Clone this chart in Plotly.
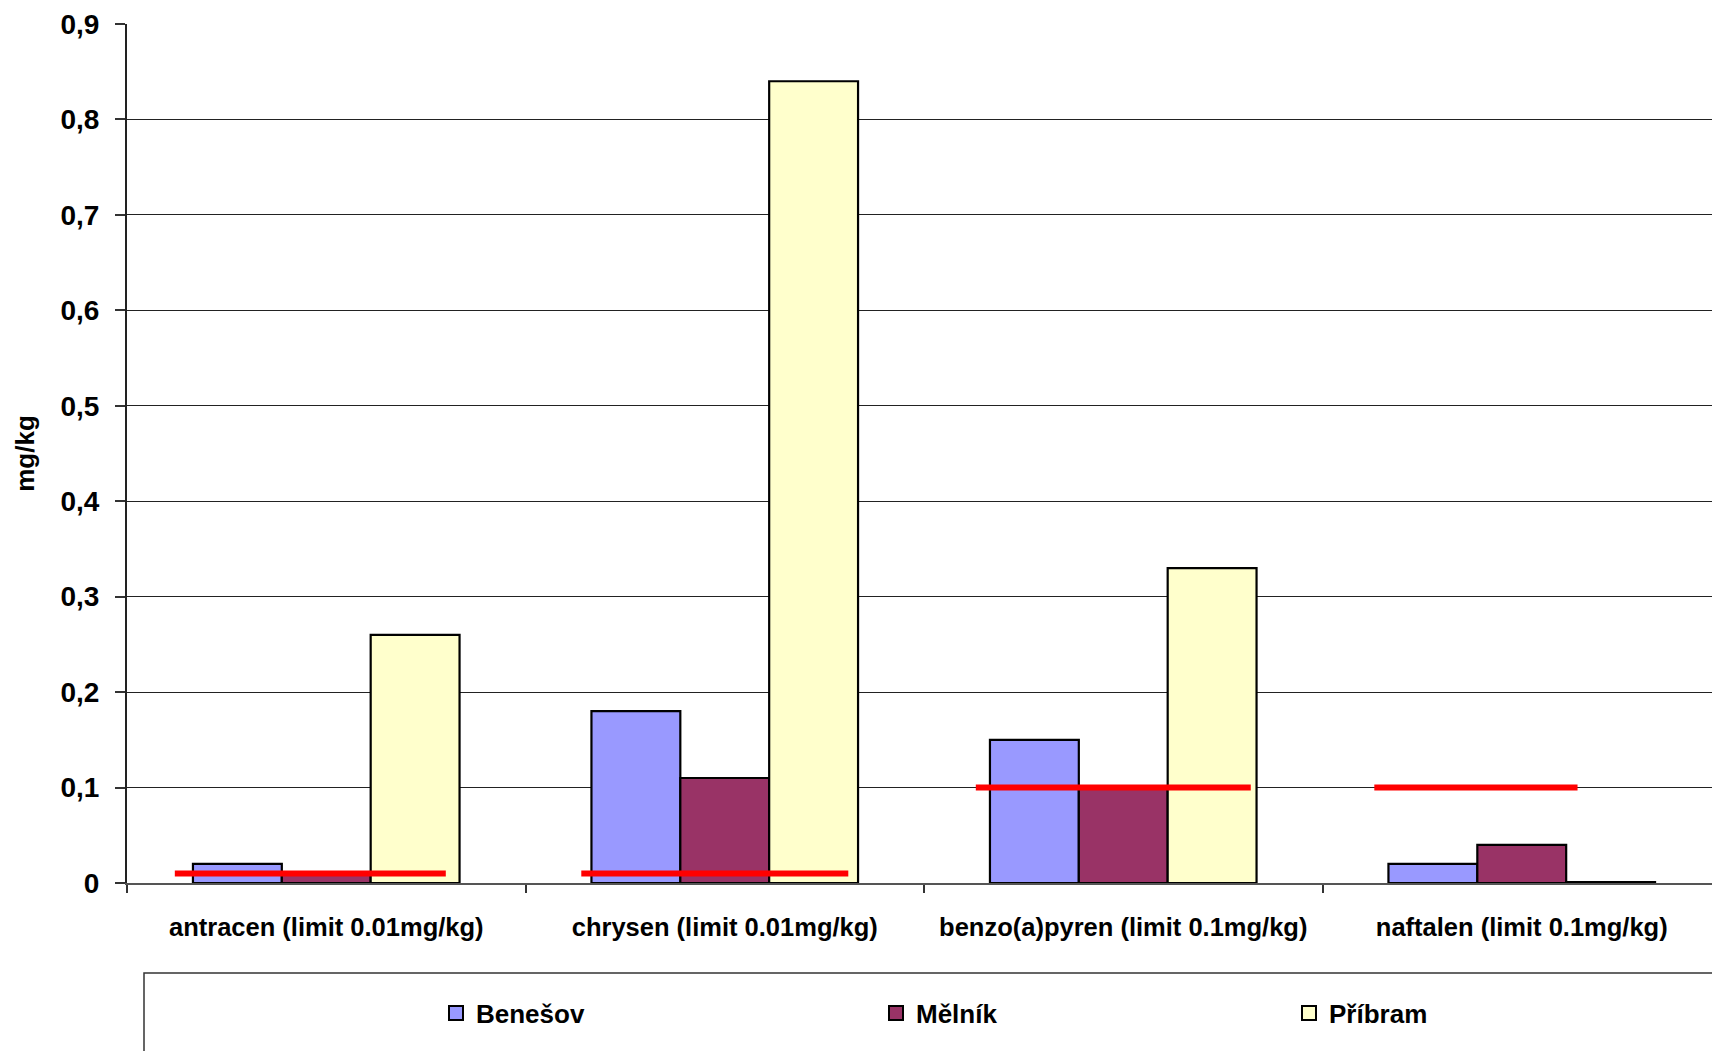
import plotly.graph_objects as go

# ---- data ----
categories = [
    "antracen (limit 0.01mg/kg)",
    "chrysen (limit 0.01mg/kg)",
    "benzo(a)pyren (limit 0.1mg/kg)",
    "naftalen (limit 0.1mg/kg)",
]
benesov = [0.02, 0.18, 0.15, 0.02]
melnik = [0.01, 0.11, 0.10, 0.04]
pribram = [0.26, 0.84, 0.33, 0.001]
limits = [0.01, 0.01, 0.1, 0.1]
series_names = ["Benešov", "Mělník", "Příbram"]
y_ticks = [0, 0.1, 0.2, 0.3, 0.4, 0.5, 0.6, 0.7, 0.8, 0.9]

# ---- style ----
W, H = 1712, 1051
ML, MR, MT, MB = 127, 0, 24, 168
PW, PH = W - ML - MR, H - MT - MB
FONT = "Liberation Sans, Arial, sans-serif"
colors = ["#9999FF", "#993366", "#FFFFCC"]
# extent of each red limit line relative to its category centre (category units)
limit_spans = [(-0.38, 0.30), (-0.36, 0.31), (-0.37, 0.32), (-0.37, 0.14)]
x_range = [-0.5, -0.5 + PW / 398.5]

fig = go.Figure()
legend_ids = ["legend", "legend2", "legend3"]
for name, vals, col, lg in zip(series_names, [benesov, melnik, pribram], colors, legend_ids):
    fig.add_trace(go.Bar(
        x=categories, y=vals, name=name, legendgroup=name, showlegend=False,
        marker=dict(color=col, line=dict(color="black", width=2.2)),
    ))
    # legend entry (square key with black outline, as in the original)
    fig.add_trace(go.Scatter(
        x=[None], y=[None], mode="markers", name=name, legendgroup=name, legend=lg,
        marker=dict(symbol="square", size=14, color=col, line=dict(color="black", width=2)),
        showlegend=True, hoverinfo="skip",
    ))

lx, ly = [], []
for i, (lim, (a, b)) in enumerate(zip(limits, limit_spans)):
    lx += [i + a, i + b, None]
    ly += [lim, lim, None]
fig.add_trace(go.Scatter(
    x=lx, y=ly, mode="lines", xaxis="x2", yaxis="y",
    line=dict(color="#FF0000", width=6), showlegend=False, hoverinfo="skip",
))


def px_to_paper_x(px):
    return (px - ML) / PW


def px_to_paper_y(py):
    return (H - MB - py) / PH


legend_common = dict(
    orientation="h", yanchor="middle", xanchor="left",
    font=dict(family=FONT, size=26, color="black", weight="bold"),
    bgcolor="rgba(0,0,0,0)", borderwidth=0,
)
legend_left = [436, 876, 1289]

fig.update_layout(
    width=W, height=H,
    margin=dict(l=ML, r=MR, t=MT, b=MB, autoexpand=False),
    paper_bgcolor="white", plot_bgcolor="white",
    separators=",.",
    barmode="group", bargap=0.331, bargroupgap=0,
    font=dict(family=FONT, color="black"),
    xaxis=dict(
        type="category", range=x_range, tickson="boundaries",
        ticks="outside", ticklen=8, tickwidth=1.5, tickcolor="#333",
        showline=True, linecolor="#555", linewidth=1.5,
        showgrid=False, zeroline=False,
        tickfont=dict(family=FONT, size=25.5, color="black", weight="bold"),
        ticklabelstandoff=21,
    ),
    xaxis2=dict(
        overlaying="x", range=x_range, visible=False, showgrid=False, zeroline=False,
    ),
    yaxis=dict(
        range=[0, 0.9], tickvals=y_ticks,
        ticks="outside", ticklen=10, tickwidth=1.5, tickcolor="#333",
        showline=True, linecolor="#222", linewidth=2,
        showgrid=True, gridcolor="#222", gridwidth=1.4,
        zeroline=False,
        tickfont=dict(family=FONT, size=28, color="black", weight="bold"),
        ticklabelstandoff=10,
        title=dict(text="mg/kg", font=dict(family=FONT, size=26, color="black", weight="bold"),
                   standoff=18),
    ),
    legend=dict(x=px_to_paper_x(legend_left[0]), y=px_to_paper_y(1013), **legend_common),
    legend2=dict(x=px_to_paper_x(legend_left[1]), y=px_to_paper_y(1013), **legend_common),
    legend3=dict(x=px_to_paper_x(legend_left[2]), y=px_to_paper_y(1013), **legend_common),
    shapes=[dict(
        type="rect", xref="paper", yref="paper",
        x0=px_to_paper_x(144), x1=px_to_paper_x(W + 20),
        y0=px_to_paper_y(H + 20), y1=px_to_paper_y(973),
        line=dict(color="#333", width=1.5), fillcolor="rgba(0,0,0,0)", layer="below",
    )],
    showlegend=True,
)

fig.write_html(
    "out.html",
    config={"displayModeBar": False},
    post_script="document.body.style.margin='0';document.body.style.overflow='hidden';",
)
